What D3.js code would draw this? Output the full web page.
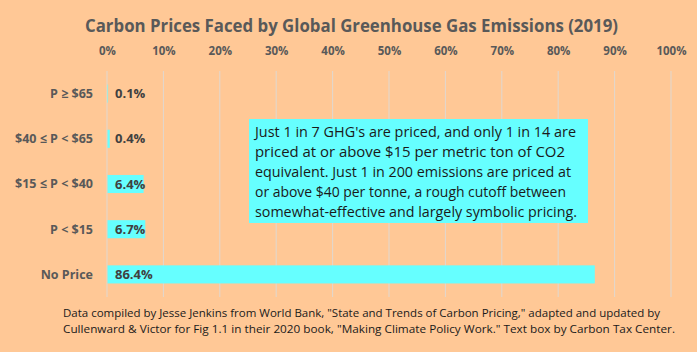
<!DOCTYPE html>
<html>
<head>
<meta charset="utf-8">
<script src="https://cdnjs.cloudflare.com/ajax/libs/d3/7.8.5/d3.min.js"></script>
<style>
  body { margin: 0; background: #FFC896; }
  svg { display: block; font-family: "Open Sans", "Noto Sans", sans-serif; }
</style>
</head>
<body>
<svg id="chart"></svg>
<script>
// data
const categories = ['P ≥ $65', '$40 ≤ P < $65', '$15 ≤ P < $40', 'P < $15', 'No Price'];
const shares = [0.1, 0.4, 6.4, 6.7, 86.4];
const ticks = [0, 10, 20, 30, 40, 50, 60, 70, 80, 90, 100];
const title = 'Carbon Prices Faced by Global Greenhouse Gas Emissions (2019)';
const boxLines = [
  "Just 1 in 7 GHG's are priced, and only 1 in 14 are",
  'priced at or above $15 per metric ton of CO2',
  'equivalent. Just 1 in 200 emissions are priced at',
  'or above $40 per tonne, a rough cutoff between',
  'somewhat-effective and largely symbolic pricing.'
];
const notes = [
  'Data compiled by Jesse Jenkins from World Bank, "State and Trends of Carbon Pricing," adapted and updated by',
  'Cullenward & Victor for Fig 1.1 in their 2020 book, "Making Climate Policy Work." Text box by Carbon Tax Center.'
];

const width = 697, height = 352;
const margin = { top: 71, right: 26, bottom: 55, left: 107 };
const grey = '#595959';

const svg = d3.select('#chart').attr('width', width).attr('height', height);
svg.append('rect').attr('width', width).attr('height', height).attr('fill', '#FFC896');

const x = d3.scaleLinear().domain([0, 100]).range([margin.left, width - margin.right]);
const y = d3.scaleBand().domain(categories)
  .range([margin.top, height - margin.bottom])
  .paddingInner(0.6).paddingOuter(0.3);

// title
svg.append('text')
  .attr('x', 85).attr('y', 32)
  .attr('textLength', 533).attr('lengthAdjust', 'spacingAndGlyphs')
  .attr('font-size', 18).attr('font-weight', 'bold').attr('fill', grey)
  .text(title);

// gridlines
svg.append('g').selectAll('line').data(ticks).join('line')
  .attr('x1', d => x(d)).attr('x2', d => x(d))
  .attr('y1', margin.top).attr('y2', height - margin.bottom)
  .attr('stroke', '#E0D8D0').attr('stroke-width', 1);

// top axis labels
const axis = svg.append('g')
  .attr('transform', `translate(0,${margin.top - 17})`)
  .call(d3.axisTop(x).tickValues(ticks).tickFormat(d => d + '%').tickSize(0));
axis.select('.domain').remove();
axis.selectAll('text')
  .attr('font-family', '"Open Sans", "Noto Sans", sans-serif')
  .attr('font-size', 11.5).attr('font-weight', 'bold').attr('fill', grey)
  .attr('dy', '0.35em');

// category labels
svg.append('g').selectAll('text').data(categories).join('text')
  .attr('x', margin.left - 14)
  .attr('y', d => y(d) + y.bandwidth() / 2)
  .attr('dy', '0.35em').attr('text-anchor', 'end')
  .attr('font-size', 12.5).attr('font-weight', 'bold').attr('fill', grey)
  .text(d => d);

// bars
svg.append('g').selectAll('rect').data(shares).join('rect')
  .attr('x', x(0) + 0.5)
  .attr('y', (d, i) => y(categories[i]))
  .attr('width', d => x(d) - x(0))
  .attr('height', y.bandwidth())
  .attr('fill', '#66FFFF');

// value labels
svg.append('g').selectAll('text').data(shares).join('text')
  .attr('x', x(0) + 8)
  .attr('y', (d, i) => y(categories[i]) + y.bandwidth() / 2)
  .attr('dy', '0.35em')
  .attr('font-size', 13).attr('font-weight', 'bold').attr('fill', '#404040')
  .text(d => d.toFixed(1) + '%');

// text box
const box = svg.append('g');
box.append('rect')
  .attr('x', 249).attr('y', 119).attr('width', 339).attr('height', 104)
  .attr('fill', '#66FFFF');
box.selectAll('text').data(boxLines).join('text')
  .attr('x', 255)
  .attr('y', (d, i) => 137 + i * 20)
  .attr('font-size', 14.5).attr('fill', '#1a1a1a')
  .attr('textLength', (d, i) => [321, 310, 316, 311, 322][i])
  .attr('lengthAdjust', 'spacingAndGlyphs')
  .text(d => d);

// footnote
svg.append('g').selectAll('text').data(notes).join('text')
  .attr('x', 63)
  .attr('y', (d, i) => 317 + i * 16)
  .attr('font-size', 11.5).attr('fill', '#1a1a1a')
  .attr('textLength', (d, i) => [597, 612][i])
  .attr('lengthAdjust', 'spacingAndGlyphs')
  .text(d => d);
</script>
</body>
</html>
